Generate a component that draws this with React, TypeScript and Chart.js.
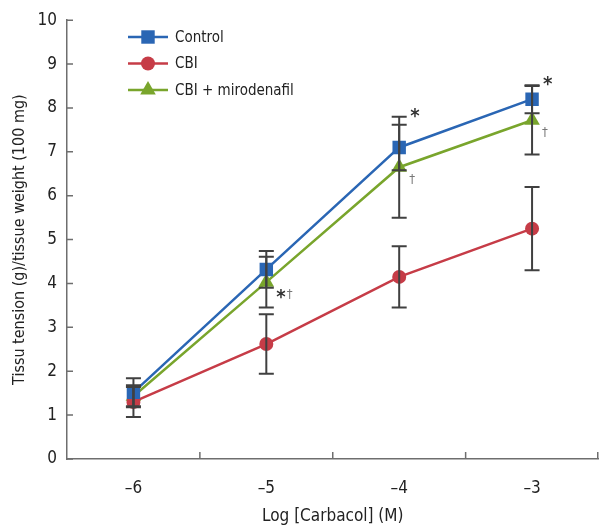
import React, { useEffect, useRef } from "react";
import { Chart, registerables } from "chart.js";

Chart.register(...registerables);

const doses = ["–6", "–5", "–4", "–3"];
const control = [1.52, 4.32, 7.1, 8.2];
const controlErr = [0.32, 0.42, 0.52, 0.32];
const cbi = [1.3, 2.62, 4.15, 5.25];
const cbiErr = [0.34, 0.68, 0.7, 0.95];
const miro = [1.43, 4.03, 6.65, 7.72];
const miroErr = [0.25, 0.58, 1.15, 0.78];
const controlMarks = ["", "", "*", "*"];
const miroMarks = ["", "*†", "†", "†"];
const seriesNames = ["Control", "CBI", "CBI + mirodenafil"];
const yTitle = "Tissu tension (g)/tissue weight (100 mg)";
const xTitle = "Log [Carbacol] (M)";

const FONT = "'Liberation Sans Narrow', 'DejaVu Sans Condensed', 'Roboto', sans-serif";
const BLUE = "#2a66b4";
const RED = "#c63c47";
const GREEN = "#79a52c";
const ERR = "#404040";
const AXIS = "#6e6e6e";

const errs = [controlErr, cbiErr, miroErr];

const overlay = {
  id: "overlay",
  afterDatasetsDraw(chart: any) {
    const ctx = chart.ctx;
    const xs = chart.scales.x;
    const ys = chart.scales.y;
    ctx.save();
    // error bars
    ctx.strokeStyle = ERR;
    ctx.lineWidth = 2;
    chart.data.datasets.forEach((ds: any, di: number) => {
      ds.data.forEach((v: number, i: number) => {
        const e = errs[di][i];
        const x = xs.getPixelForValue(i);
        const yt = ys.getPixelForValue(v + e);
        const yb = ys.getPixelForValue(v - e);
        ctx.beginPath();
        ctx.moveTo(x, yt);
        ctx.lineTo(x, yb);
        ctx.moveTo(x - 7.5, yt);
        ctx.lineTo(x + 7.5, yt);
        ctx.moveTo(x - 7.5, yb);
        ctx.lineTo(x + 7.5, yb);
        ctx.stroke();
      });
    });
    // axis tick marks (inward)
    ctx.strokeStyle = AXIS;
    ctx.lineWidth = 1.5;
    ctx.beginPath();
    for (let i = 0; i < doses.length - 1; i++) {
      const x = (xs.getPixelForValue(i) + xs.getPixelForValue(i + 1)) / 2;
      ctx.moveTo(x, ys.bottom);
      ctx.lineTo(x, ys.bottom - 7);
    }
    ctx.moveTo(xs.right - 0.75, ys.bottom);
    ctx.lineTo(xs.right - 0.75, ys.bottom - 7);
    ys.ticks.forEach((t: any) => {
      const y = ys.getPixelForValue(t.value);
      ctx.moveTo(xs.left, y);
      ctx.lineTo(xs.left + 6, y);
    });
    ctx.stroke();
    // significance marks
    ctx.textBaseline = "middle";
    ctx.textAlign = "left";
    controlMarks.forEach((m, i) => {
      if (!m) return;
      const top = Math.max(control[i] + controlErr[i], miro[i] + miroErr[i]);
      const x = xs.getPixelForValue(i) + 11;
      const y = ys.getPixelForValue(top) - 4;
      ctx.fillStyle = "#333";
      ctx.font = `bold 20px ${FONT}`;
      ctx.fillText(m, x, y + 4);
    });
    miroMarks.forEach((m, i) => {
      if (!m) return;
      let x = xs.getPixelForValue(i) + 10;
      const y = ys.getPixelForValue(miro[i]) + 12;
      for (const ch of m) {
        if (ch === "*") {
          ctx.fillStyle = "#333";
          ctx.font = `bold 20px ${FONT}`;
          ctx.fillText(ch, x, y + 4);
          x += ctx.measureText(ch).width + 1;
        } else {
          ctx.fillStyle = "#777";
          ctx.font = `13px ${FONT}`;
          ctx.fillText(ch, x, y);
          x += ctx.measureText(ch).width;
        }
      }
    });
    ctx.restore();
  },
  afterDraw(chart: any) {
    const ctx = chart.ctx;
    const colors = [BLUE, RED, GREEN];
    const styles = ["rect", "circle", "triangle"];
    const radii = [9.5, 7, 9];
    ctx.save();
    seriesNames.forEach((name, i) => {
      const y = 37 + i * 26.5;
      ctx.strokeStyle = colors[i];
      ctx.lineWidth = 2.5;
      ctx.beginPath();
      ctx.moveTo(128, y);
      ctx.lineTo(168, y);
      ctx.stroke();
      ctx.fillStyle = colors[i];
      drawMarker(ctx, styles[i], radii[i], 148, y);
      ctx.fillStyle = "#222";
      ctx.font = `15px ${FONT}`;
      ctx.textBaseline = "middle";
      ctx.textAlign = "left";
      ctx.fillText(name, 175, y + 1);
    });
    ctx.restore();
  },
};

function drawMarker(ctx: CanvasRenderingContext2D, style: string, r: number, x: number, y: number) {
  ctx.beginPath();
  if (style === "rect") {
    const s = Math.SQRT1_2 * r;
    ctx.rect(x - s, y - s, 2 * s, 2 * s);
  } else if (style === "circle") {
    ctx.arc(x, y, r, 0, Math.PI * 2);
  } else {
    const a = (Math.PI * 2) / 3;
    for (let k = 0; k < 3; k++) {
      const ang = -Math.PI / 2 + k * a;
      const px = x + Math.cos(ang) * r;
      const py = y + Math.sin(ang) * r;
      if (k === 0) ctx.moveTo(px, py);
      else ctx.lineTo(px, py);
    }
    ctx.closePath();
  }
  ctx.fill();
}

export default function App() {
  const ref = useRef<HTMLCanvasElement>(null);
  useEffect(() => {
    document.body.style.margin = "0";
    const chart = new Chart(ref.current as HTMLCanvasElement, {
      type: "line",
      data: {
        labels: doses,
        datasets: [
          {
            label: seriesNames[0],
            data: control,
            borderColor: BLUE,
            backgroundColor: BLUE,
            pointStyle: "rect",
            pointRadius: 9.5,
            pointBorderWidth: 0,
            borderWidth: 2.5,
          },
          {
            label: seriesNames[1],
            data: cbi,
            borderColor: RED,
            backgroundColor: RED,
            pointStyle: "circle",
            pointRadius: 7,
            pointBorderWidth: 0,
            borderWidth: 2.5,
          },
          {
            label: seriesNames[2],
            data: miro,
            borderColor: GREEN,
            backgroundColor: GREEN,
            pointStyle: "triangle",
            pointRadius: 9,
            pointBorderWidth: 0,
            borderWidth: 2.5,
          },
        ],
      },
      options: {
        animation: false,
        responsive: false,
        layout: { padding: { top: 18, right: 0, left: 0, bottom: 0 } },
        plugins: { legend: { display: false }, tooltip: { enabled: false } },
        scales: {
          x: {
            type: "category",
            offset: true,
            grid: { display: false, drawTicks: false },
            border: { display: true, color: AXIS, width: 1.5 },
            ticks: { color: "#222", font: { family: FONT, size: 17 }, padding: 19 },
            title: {
              display: true,
              text: xTitle,
              color: "#222",
              font: { family: FONT, size: 17 },
              padding: { top: 0, bottom: 4 },
            },
            afterFit: (s: any) => {
              s.height = 72;
            },
          },
          y: {
            min: 0,
            max: 10,
            ticks: { stepSize: 1, color: "#222", font: { family: FONT, size: 17 }, padding: 10 },
            grid: { display: false, drawTicks: false },
            border: { display: true, color: AXIS, width: 1.5 },
            title: {
              display: true,
              text: yTitle,
              color: "#222",
              font: { family: FONT, size: 16 },
              padding: { top: 10, bottom: 0 },
            },
            afterFit: (s: any) => {
              s.width = 67;
            },
          },
        },
      },
      plugins: [overlay],
    } as any);
    return () => chart.destroy();
  }, []);
  return (
    <div style={{ width: 602, height: 531, overflow: "hidden" }}>
      <canvas ref={ref} width={608} height={531} style={{ display: "block" }} />
    </div>
  );
}
